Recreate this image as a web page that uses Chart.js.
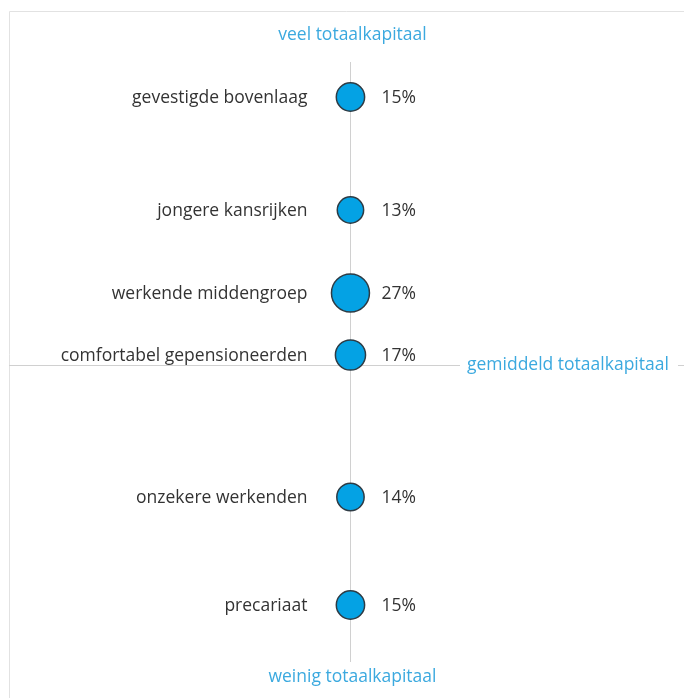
<!DOCTYPE html>
<html>
<head>
<meta charset="utf-8">
<script src="https://cdn.jsdelivr.net/npm/chart.js@4/dist/chart.umd.min.js"></script>
<style>
    body { margin: 0; background: #fff; }
    #wrap { width: 684px; height: 698px; }
</style>
</head>
<body>
<div id="wrap"><canvas id="canvas" width="684" height="698"></canvas></div>
<script>
// groepen, van veel naar weinig totaalkapitaal
var groups = ['gevestigde bovenlaag', 'jongere kansrijken', 'werkende middengroep',
    'comfortabel gepensioneerden', 'onzekere werkenden', 'precariaat'];
// aandeel van de bevolking (%)
var shares = [15, 13, 27, 17, 14, 15];
// positie t.o.v. gemiddeld totaalkapitaal (geschat)
var capital = [2.68, 1.55, 0.72, 0.10, -1.32, -2.40];
var axisTop = 'veel totaalkapitaal';
var axisBottom = 'weinig totaalkapitaal';
var axisMid = 'gemiddeld totaalkapitaal';

var FONT = '"Open Sans", "Noto Sans", sans-serif';
var BLUE = '#3ba9df';

function bubbleRadius(p) {
    return 19 * Math.sqrt(p / 27);
}

var points = groups.map(function(g, i) {
    return { x: 0, y: capital[i], r: bubbleRadius(shares[i]) };
});

// assen, kader en teksten
var overlay = {
    id: 'overlay',
    beforeDatasetsDraw: function(chart) {
        var ctx = chart.ctx;
        var area = chart.chartArea;
        var x0 = chart.scales.x.getPixelForValue(0);
        var y0 = chart.scales.y.getPixelForValue(0);
        ctx.save();
        ctx.lineWidth = 1;
        ctx.strokeStyle = '#e2e2e2';
        ctx.beginPath();
        ctx.moveTo(9.5, 698); ctx.lineTo(9.5, 11.5); ctx.lineTo(684, 11.5);
        ctx.stroke();

        ctx.strokeStyle = '#d0d0d0';
        ctx.beginPath();
        ctx.moveTo(Math.round(x0) + 0.5, area.top);
        ctx.lineTo(Math.round(x0) + 0.5, area.bottom);
        ctx.moveTo(9, Math.round(y0) + 0.5);
        ctx.lineTo(460, Math.round(y0) + 0.5);
        ctx.moveTo(678, Math.round(y0) + 0.5);
        ctx.lineTo(684, Math.round(y0) + 0.5);
        ctx.stroke();

        ctx.fillStyle = BLUE;
        ctx.font = '17.5px ' + FONT;
        ctx.textBaseline = 'middle';
        ctx.textAlign = 'center';
        ctx.fillText(axisTop, x0 + 2, 35);
        ctx.fillText(axisBottom, x0 + 2, 677);
        ctx.textAlign = 'left';
        ctx.fillText(axisMid, 467, y0);
        ctx.restore();
    },
    afterDatasetsDraw: function(chart) {
        var ctx = chart.ctx;
        var meta = chart.getDatasetMeta(0);
        ctx.save();
        ctx.fillStyle = '#333333';
        ctx.font = '17.5px ' + FONT;
        ctx.textBaseline = 'middle';
        meta.data.forEach(function(el, i) {
            ctx.textAlign = 'right';
            ctx.fillText(groups[i], el.x - 43, el.y + 1);
            ctx.textAlign = 'left';
            ctx.fillText(shares[i] + '%', el.x + 31, el.y + 1);
        });
        ctx.restore();
    }
};

var ctx = document.getElementById('canvas').getContext('2d');
var chart = new Chart(ctx, {
    type: 'bubble',
    data: {
        datasets: [{
            data: points,
            backgroundColor: '#04a2e4',
            borderColor: '#2e3b44',
            borderWidth: 1.5,
            hoverRadius: 0
        }]
    },
    options: {
        responsive: false,
        animation: false,
        layout: { padding: { top: 62, bottom: 36, left: 0, right: 0 } },
        plugins: {
            legend: { display: false },
            tooltip: { enabled: false }
        },
        scales: {
            x: { display: false, min: -351, max: 333 },
            y: { display: false, min: -2.97, max: 3.03 }
        }
    },
    plugins: [overlay]
});
</script>
</body>
</html>
